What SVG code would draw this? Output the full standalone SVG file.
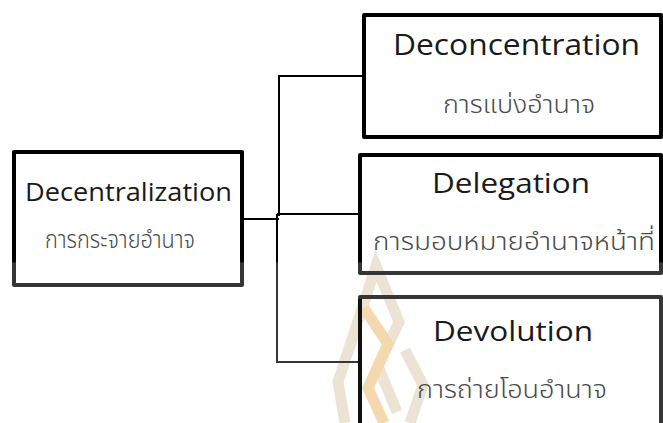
<svg xmlns="http://www.w3.org/2000/svg" width="663" height="423" viewBox="0 0 663 423">
  <defs>
    <!-- ink is slightly lighter on the lower part of the sheet -->
    <linearGradient id="ink" gradientUnits="userSpaceOnUse" x1="0" y1="0" x2="0" y2="423">
      <stop offset="0" stop-color="#000"/>
      <stop offset="0.618" stop-color="#000"/>
      <stop offset="0.622" stop-color="#363636"/>
      <stop offset="1" stop-color="#363636"/>
    </linearGradient>
    <style>
      .box { fill: none; stroke-width: 4; stroke-linejoin: round; }
      .en { font-family: "Open Sans", "Noto Sans", sans-serif; fill: #1a1a1a; text-anchor: middle; }
      .th { font-family: "Noto Sans Thai", "Leelawadee UI", Tahoma, "DejaVu Sans", sans-serif; font-weight: 300; fill: #4a4a4a; text-anchor: middle; }
      .wire { fill: none; stroke-width: 2; }
      .mark { fill: none; stroke-width: 11; stroke-linejoin: miter; }
    </style>
  </defs>

  <rect width="663" height="423" fill="#fff"/>

  <!-- faint emblem behind the lower boxes -->
  <g id="emblem" opacity="0.7">
    <polyline class="mark" stroke="#e6d8c4" points="345,423 338,382 376,266 399,322 378,366 397,412"/>
    <polyline class="mark" stroke="#f1c98c" points="364,308 388,344 368,388 384,423"/>
    <polyline class="mark" stroke="#e6d8c4" points="405,350 423,385 410,423"/>
  </g>

  <g id="connectors">
    <polyline class="wire" stroke="#000" points="362,76 279,76 279,216"/>
    <line class="wire" stroke="#000" x1="277" y1="214" x2="360" y2="214"/>
    <line class="wire" stroke="#000" x1="244" y1="219" x2="279" y2="219"/>
    <polyline class="wire" stroke="url(#ink)" points="277,214 277,362 360,362"/>
  </g>

  <g id="decentralization">
    <rect class="box" stroke="url(#ink)" x="14" y="152" width="228" height="133"/>
    <text class="en" x="128.5" y="200.5" font-size="25" textLength="207" lengthAdjust="spacingAndGlyphs">Decentralization</text>
    <text class="th" x="120" y="248" font-size="25" textLength="150" lengthAdjust="spacingAndGlyphs">การกระจายอำนาจ</text>
  </g>

  <g id="deconcentration">
    <rect class="box" stroke="#000" x="364" y="15" width="297" height="122"/>
    <text class="en" x="516.5" y="55" font-size="30" textLength="247" lengthAdjust="spacingAndGlyphs">Deconcentration</text>
    <text class="th" x="519" y="113" font-size="25" textLength="152" lengthAdjust="spacingAndGlyphs">การแบ่งอำนาจ</text>
  </g>

  <g id="delegation">
    <rect class="box" stroke="url(#ink)" x="360" y="155" width="301" height="118"/>
    <text class="en" x="511" y="193" font-size="28" textLength="158" lengthAdjust="spacingAndGlyphs">Delegation</text>
    <text class="th" x="514" y="250" font-size="25" textLength="282" lengthAdjust="spacingAndGlyphs">การมอบหมายอำนาจหน้าที่</text>
  </g>

  <g id="devolution">
    <rect class="box" stroke="#363636" x="360" y="297" width="301" height="200"/>
    <line stroke="#111" stroke-width="4" x1="360" y1="299" x2="360" y2="423"/>
    <text class="en" x="513" y="341" font-size="27" textLength="160" lengthAdjust="spacingAndGlyphs" fill="#333">Devolution</text>
    <text class="th" x="512" y="398" font-size="25" textLength="190" lengthAdjust="spacingAndGlyphs">การถ่ายโอนอำนาจ</text>
  </g>
</svg>
